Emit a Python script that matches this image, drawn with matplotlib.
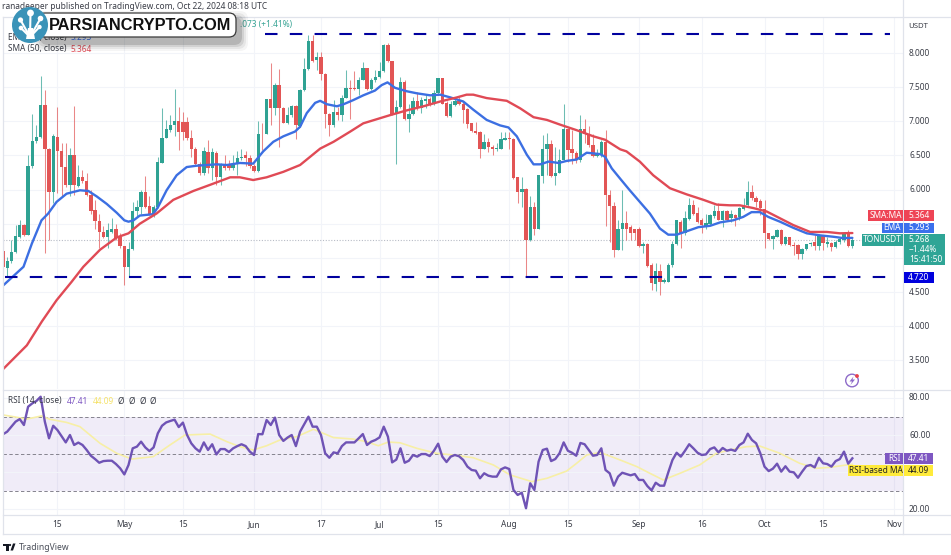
import numpy as np
import matplotlib
matplotlib.use("Agg")
import matplotlib.pyplot as plt
from matplotlib.patches import Circle, FancyBboxPatch, Rectangle, Polygon

plt.rcParams['font.family'] = ['Noto Sans', 'DejaVu Sans']

# Daily TON/USDT candles, 2 Apr - 22 Oct 2024 (index 0 = 2 Apr)
opens = [5.10,4.85,4.95,5.09,5.30,5.48,5.34,6.34,6.71,6.77,
 7.24,6.60,5.96,6.77,6.56,6.33,6.07,6.51,6.05,6.19,
 6.12,5.92,5.70,5.54,5.38,5.30,5.38,5.42,5.30,5.17,
 4.87,5.13,5.68,5.74,5.97,5.76,5.63,5.75,6.39,6.76,
 6.87,6.95,7.00,6.99,6.99,6.75,6.59,6.38,6.24,6.55,
 6.31,6.53,6.19,6.37,6.38,6.31,6.38,6.46,6.50,6.46,
 6.34,6.27,6.82,6.82,7.32,7.20,7.53,7.20,6.98,7.09,
 7.22,6.93,7.46,7.76,8.17,7.90,7.94,7.69,7.11,6.94,
 7.13,7.09,7.34,7.49,7.49,7.48,7.61,7.78,7.48,7.60,
 7.65,7.73,8.12,7.89,7.11,7.21,7.57,7.03,7.11,7.30,
 7.20,7.30,7.32,7.25,7.41,7.63,7.27,7.08,7.24,7.30,
 7.25,7.18,6.97,6.86,6.85,6.60,6.70,6.63,6.60,6.60,
 6.73,6.75,6.74,6.18,5.96,6.01,5.26,5.75,5.43,6.20,
 6.60,6.67,6.20,6.25,6.44,6.88,6.59,6.53,6.43,6.88,
 6.82,6.65,6.49,6.50,6.70,5.92,5.76,5.12,5.43,5.51,
 5.45,5.43,5.43,5.17,5.21,4.90,4.62,4.81,4.64,4.65,
 4.89,5.20,5.53,5.36,5.57,5.77,5.66,5.56,5.47,5.50,
 5.62,5.68,5.56,5.68,5.58,5.63,5.60,5.72,5.77,5.97,
 5.88,5.84,5.71,5.36,5.28,5.31,5.41,5.21,5.30,5.19,
 5.19,5.06,5.13,5.20,5.24,5.17,5.32,5.21,5.22,5.16,
 5.24,5.26,5.35,5.18]
highs = [5.34,5.02,5.26,5.48,5.55,5.50,6.51,7.11,6.95,7.66,
 7.46,6.61,6.82,7.21,6.68,6.68,6.61,7.22,6.36,6.29,
 6.24,5.99,5.85,5.65,5.46,5.51,5.58,5.50,5.36,5.18,
 5.24,5.82,5.85,5.99,6.20,5.90,5.78,6.48,7.19,7.02,
 7.09,7.48,7.21,7.14,7.07,6.87,6.63,6.41,6.63,6.73,
 6.61,6.56,6.39,6.51,6.43,6.51,6.56,6.59,6.56,6.51,
 6.38,7.01,6.97,7.33,7.86,7.56,7.76,7.21,7.21,7.24,
 7.24,7.47,7.92,8.26,8.26,8.02,8.02,7.70,7.12,7.31,
 7.21,7.39,7.75,7.60,7.73,7.65,7.87,7.78,7.63,7.75,
 7.87,8.13,8.15,7.89,7.31,7.65,7.60,7.26,7.36,7.43,
 7.35,7.39,7.36,7.46,7.64,7.64,7.29,7.29,7.34,7.36,
 7.29,7.19,6.98,6.99,6.86,6.82,6.75,6.65,6.68,6.85,
 6.85,6.85,6.75,6.19,6.19,6.02,5.90,5.82,6.22,6.80,
 6.83,6.73,6.63,6.60,7.25,6.90,6.87,6.56,7.09,7.04,
 6.93,6.82,6.60,6.72,6.87,6.00,5.82,5.55,5.99,5.68,
 5.48,5.43,5.45,5.24,5.22,4.92,4.92,4.91,4.70,4.92,
 5.25,5.56,5.56,5.68,5.87,5.85,5.75,5.58,5.65,5.65,
 5.77,5.80,5.70,5.70,5.70,5.65,5.75,5.87,6.12,6.07,
 5.90,5.86,5.85,5.37,5.34,5.42,5.42,5.32,5.31,5.24,
 5.20,5.14,5.21,5.24,5.34,5.35,5.34,5.31,5.24,5.26,
 5.30,5.37,5.41,5.29]
lows = [4.80,4.73,4.92,5.07,5.29,5.32,5.33,6.31,6.68,6.75,
 5.07,5.26,5.80,5.95,5.90,6.04,5.90,5.92,6.04,6.09,
 5.90,5.65,5.43,5.14,5.29,5.14,5.36,5.26,5.14,4.60,
 4.73,5.11,5.60,5.65,5.73,5.63,5.60,5.73,6.39,6.75,
 6.85,6.78,6.58,6.73,6.73,6.48,6.34,6.21,6.21,6.24,
 6.14,6.07,6.07,6.29,6.28,6.29,6.21,6.43,6.34,6.31,
 6.26,6.26,6.58,6.81,6.95,7.09,6.63,6.97,6.96,7.07,
 6.74,6.92,7.45,7.75,7.87,7.75,7.60,6.90,6.78,6.92,
 7.02,7.00,7.34,7.04,7.46,7.39,7.60,7.46,7.46,7.58,
 7.64,7.72,7.87,7.09,6.37,7.20,7.02,6.85,7.09,7.17,
 7.12,7.19,7.22,7.24,7.40,7.25,7.07,7.07,7.22,7.24,
 6.97,6.90,6.85,6.82,6.46,6.59,6.55,6.51,6.57,6.59,
 6.72,6.60,6.16,5.81,5.75,4.73,5.25,5.34,5.42,6.09,
 6.21,6.19,6.07,6.24,6.43,6.41,6.38,6.39,6.41,6.68,
 6.63,6.47,6.47,6.48,5.46,5.24,5.01,5.11,5.12,5.26,
 5.26,5.26,5.16,5.07,4.87,4.53,4.51,4.45,4.63,4.64,
 4.87,5.19,5.15,5.34,5.56,5.63,5.51,5.36,5.42,5.48,
 5.58,5.55,5.45,5.55,5.53,5.46,5.56,5.70,5.75,5.85,
 5.75,5.63,5.15,5.26,5.13,5.30,5.19,5.19,5.17,5.04,
 4.99,4.99,5.12,5.18,5.12,5.12,5.12,5.16,5.10,5.15,
 5.21,5.24,5.16,5.15]
closes = [4.87,4.95,5.09,5.32,5.48,5.34,6.35,6.71,6.77,7.24,
 6.60,5.96,6.78,6.56,6.33,6.07,6.51,6.07,6.19,6.12,
 5.92,5.69,5.54,5.38,5.30,5.41,5.42,5.29,5.17,4.87,
 5.13,5.69,5.74,5.97,5.75,5.65,5.75,6.40,6.76,6.88,
 6.95,7.00,6.84,6.84,6.75,6.59,6.38,6.24,6.56,6.31,
 6.55,6.19,6.38,6.31,6.31,6.38,6.46,6.48,6.46,6.34,
 6.27,6.82,6.81,7.32,7.20,7.53,7.20,6.98,7.09,7.22,
 6.95,7.46,7.76,8.17,7.89,7.94,7.69,7.11,6.95,7.13,
 7.09,7.34,7.49,7.48,7.47,7.61,7.78,7.48,7.61,7.65,
 7.73,8.12,7.89,7.11,7.21,7.57,7.03,7.11,7.30,7.20,
 7.31,7.32,7.24,7.42,7.63,7.26,7.08,7.25,7.30,7.25,
 7.17,6.96,6.86,6.83,6.60,6.70,6.63,6.60,6.61,6.74,
 6.75,6.74,6.17,5.96,6.01,5.26,5.75,5.43,6.21,6.60,
 6.67,6.20,6.25,6.44,6.88,6.58,6.53,6.43,6.88,6.82,
 6.65,6.49,6.54,6.70,5.92,5.76,5.12,5.43,5.51,5.43,
 5.36,5.36,5.17,5.21,4.88,4.63,4.81,4.65,4.67,4.89,
 5.21,5.55,5.36,5.58,5.77,5.65,5.53,5.48,5.51,5.63,
 5.68,5.56,5.68,5.56,5.65,5.58,5.73,5.78,5.97,5.87,
 5.82,5.73,5.36,5.28,5.32,5.41,5.21,5.30,5.19,5.17,
 5.06,5.13,5.20,5.22,5.17,5.33,5.22,5.24,5.16,5.24,
 5.27,5.35,5.18,5.268]

ema_x = [0.1,1.7,4.9,6.9,9.2,10.8,12.8,15.2,18.4,20.4,22.4,24.8,27.2,29,30,31.2,32.7,35.9,37.1,39.1,41.5,43.9,46.3,48.7,51.1,53.5,56.6,59.8,62.2,64.6,67,69.8,
 71,72.6,74.6,75.8,77.4,79.8,81.4,83.7,86.1,88.9,90.5,91.9,93.7,96.5,98.9,102.1,104.5,106.9,110,112.4,115.6,118.8,120.8,122.8,125.2,126.8,128.4,130.4,132.8,134.7,137.1,139.5,142.7,143.9,145.5,147.5,
 149.8,152.2,154.6,157,159,161,163.4,166.2,169,171.4,174.5,176.9,178.9,180.9,182.9,185.7,188.9,192.1,195.3,198.4,200.8,203]
ema_y = [4.60,4.69,4.87,5.21,5.55,5.65,5.82,5.94,5.99,5.98,5.90,5.79,5.66,5.55,5.53,5.55,5.62,5.64,5.75,5.99,6.21,6.33,6.35,6.36,6.37,6.36,6.39,6.38,6.56,6.70,6.78,6.85,
 6.92,7.12,7.27,7.30,7.25,7.22,7.25,7.31,7.38,7.45,7.53,7.57,7.49,7.44,7.41,7.38,7.39,7.35,7.29,7.17,7.02,6.94,6.91,6.78,6.51,6.37,6.37,6.41,6.39,6.42,6.44,6.54,6.52,6.48,6.31,6.16,
 5.99,5.82,5.65,5.43,5.34,5.34,5.39,5.45,5.47,5.52,5.55,5.60,5.67,5.67,5.60,5.53,5.44,5.36,5.33,5.31,5.29,5.293]

sma_x = [0,5.7,9.3,12.8,16.4,19.2,23.2,27.2,30,32.7,36.7,40.7,45.5,49.5,54.3,56.6,59.8,63,67,
 71,73.4,75.8,79,83,86.1,89.3,92.5,96.5,100.5,104.5,108.5,110.8,112.4,115.6,120.4,123.6,126.8,130,133.2,137.1,141.1,143.9,147.5,
 149,152.2,155.4,159.4,163.4,167.4,170.6,173.7,176.1,179.3,182.5,185.7,188.9,192.9,196.9,200,203]
sma_y = [3.37,3.72,4.07,4.38,4.65,4.87,5.12,5.30,5.36,5.50,5.65,5.85,5.98,6.07,6.18,6.18,6.14,6.18,6.26,
 6.36,6.48,6.60,6.70,6.85,6.97,7.03,7.09,7.16,7.22,7.29,7.35,7.39,7.39,7.34,7.30,7.19,7.06,7.02,6.95,6.87,6.78,6.73,6.59,
 6.56,6.41,6.21,6.02,5.93,5.85,5.78,5.77,5.77,5.73,5.68,5.58,5.48,5.38,5.38,5.36,5.364]

rsi = [60.4,61.8,64.5,67.2,68.6,65.4,75.3,77.1,78.4,80.7,
 67.2,58.2,65.0,62.7,59.4,56.0,60.0,54.6,55.9,54.6,
 51.9,48.8,47.0,45.0,45.9,46.1,46.1,44.3,42.0,38.7,
 43.8,52.8,53.7,56.4,53.3,51.3,53.3,60.9,65.0,66.8,
 67.6,68.3,64.3,66.7,60.0,55.5,52.8,51.0,56.0,51.9,
 55.0,49.5,52.4,52.4,50.8,52.8,54.0,55.0,54.0,51.0,
 49.2,60.5,60.4,68.1,65.4,69.4,60.0,56.8,58.6,60.0,
 54.0,61.8,65.8,69.9,64.5,64.5,60.0,50.1,47.7,50.6,
 50.1,54.0,56.0,56.0,56.0,58.2,60.5,54.6,56.4,57.3,
 58.7,64.5,59.1,45.2,46.7,52.8,45.0,46.1,49.2,48.3,
 49.7,49.7,48.6,51.5,55.3,48.3,45.4,48.3,49.2,48.5,
 46.5,42.9,41.1,40.7,36.6,39.3,38.0,37.5,37.5,41.4,
 42.5,41.6,30.3,27.6,28.8,20.4,33.9,30.3,45.6,51.9,
 52.6,45.9,47.0,50.1,56.0,51.5,50.4,48.8,55.7,55.0,
 51.9,48.8,49.2,52.8,41.1,39.3,32.6,37.5,39.6,38.9,
 38.2,38.9,35.7,35.7,32.4,30.1,34.2,32.6,32.6,39.8,
 46.5,50.4,48.3,51.5,55.0,52.8,50.4,49.2,49.5,52.4,
 53.3,50.6,53.0,51.5,52.1,51.4,54.6,56.0,60.7,57.3,
 55.5,50.1,42.9,40.5,41.8,44.5,40.2,43.1,40.2,39.8,
 36.9,40.2,43.2,43.8,42.5,47.7,44.7,44.3,42.9,45.9,
 47.0,51.0,44.5,47.41]

rsima_x = [0.1,2.5,5.7,9.2,11.2,15.2,18.4,23.2,27.2,30.8,35.9,39.9,43.5,49.5,53.5,56.6,59.8,63,66.2,70.2,74.2,
 79,83.7,86.9,89.7,92.1,94.9,98.9,103.6,107.6,112.4,117.2,121.2,126.4,130,134.7,137.1,139.5,142.7,147.5,151.5,
 154.6,157.8,161.8,166.5,170.5,173.7,177.7,180.9,185.7,190.4,194.4,197.6,201.6,203]
rsima_y = [70.8,69.9,68.6,70.3,68.5,66.8,64.5,55.5,50.1,47.0,48.3,54.6,60.0,60.5,56.4,53.7,51.9,54.2,57.3,59.1,63.1,
 58.6,57.8,56.4,54.2,56.2,55.8,52.8,50.1,49.2,47.7,43.8,38.4,34.8,36.6,40.5,44.7,49.2,50.6,46.5,42.9,
 39.3,35.7,39.3,43.8,50.1,51.9,53.7,54.0,50.1,44.7,42.0,42.5,43.8,44.09]

tick_pos = [13,29,43,60,76,90,104,121,135,152,167,182,196,213]
tick_lab = ['15','May','15','Jun','17','Jul','15','Aug','15','Sep','16','Oct','15','Nov']
price_ticks = [3.5,4.0,4.5,5.0,5.5,6.0,6.5,7.0,7.5,8.0]
price_labels = {3.5:'3.500',4.0:'4.000',4.5:'4.500',6.0:'6.000',6.5:'6.500',7.0:'7.000',7.5:'7.500',8.0:'8.000'}
rsi_ticks = [20,40,60,80]
rsi_labels = {20:'20.00',60:'60.00',80:'80.00'}
resistance = 8.28
support = 4.72
last_close = closes[-1]

W, H = 951, 555
GREEN, RED = '#2fa293', '#e25555'
GRID = '#f2f4f9'
BORDER = '#e0e3eb'
TXT = '#3a3d47'

fig = plt.figure(figsize=(W/100, H/100), dpi=100, facecolor='white')
def pane(l, t, r, b):
    return fig.add_axes([l/W, 1-b/H, (r-l)/W, (b-t)/H])

ax = pane(3, 17, 903, 389)
ar = pane(3, 390, 903, 515)
xlim = (0.0, 215.1)
for a in (ax, ar):
    a.set_xlim(*xlim)
    a.set_xticks(tick_pos)
    a.tick_params(length=0, labelbottom=False, labelleft=False)
    a.set_yticks([])
    for s in a.spines.values():
        s.set_visible(False)
    a.grid(False)
    for t in tick_pos:
        a.axvline(t, color=GRID, lw=0.8, zorder=0)

ax.set_ylim(8 - (389-53)/68.3, 8 - (17-53)/68.3)
for p in price_ticks:
    ax.axhline(p, color=GRID, lw=0.8, zorder=0)

x = np.arange(len(closes))
O, Hi, Lo, C = map(np.array, (opens, highs, lows, closes))
up = C >= O
cols = np.where(up, GREEN, RED)
ax.vlines(x, Lo, Hi, colors=cols, lw=0.75, alpha=0.7, zorder=2)
ax.bar(x, np.abs(C-O), bottom=np.minimum(O, C), width=0.8, color=cols, linewidth=0, zorder=3)
ax.plot(ema_x, ema_y, color='#3c6fe2', lw=1.7, zorder=4, solid_capstyle='round', solid_joinstyle='round')
ax.plot(sma_x, sma_y, color='#e04a55', lw=1.7, zorder=5, solid_capstyle='round', solid_joinstyle='round')
ax.axhline(last_close, color='#b8bcc6', lw=0.8, ls=(0, (1, 1.5)), zorder=1)
dash = (0, (6.0, 5.9))
ax.plot([62.5, 212], [resistance, resistance], color='#00009e', lw=1.5, ls=dash, zorder=6)
ax.plot([0.5, 212], [support, support], color='#00009e', lw=1.5, ls=dash, zorder=6)

ar.set_ylim(80-(515-398)/1.85, 80-(390-398)/1.85)
for v in rsi_ticks:
    ar.axhline(v, color=GRID, lw=0.8, zorder=1)
ar.axhspan(30, 70, color='#7e57c2', alpha=0.11, lw=0, zorder=0.5)
for v in (30, 50, 70):
    ar.axhline(v, color='#85838e', lw=0.7, ls=(0, (3.5, 2.5)), zorder=1.5)
ar.plot(rsima_x, rsima_y, color='#f7efa6', lw=1.2, zorder=2)
ar.plot(x, rsi, color='#6f53b5', lw=1.7, zorder=3, solid_joinstyle='round')

# overlay in picture pixels for axis labels, tags and the watermark
ov = fig.add_axes([0, 0, 1, 1], zorder=20)
ov.set_xlim(0, W); ov.set_ylim(H, 0); ov.axis('off')
ov.patch.set_alpha(0)

for xs, ys in [([3,3],[17,534]), ([903,903],[0,534]), ([3,951],[390,390]), ([3,951],[515,515]), ([3,951],[534,534]), ([3,951],[17,17])]:
    ov.plot(xs, ys, color=BORDER, lw=0.9, zorder=1)

FS = 6.0
for p, s in price_labels.items():
    ov.text(909, H - ax.transData.transform((0, p))[1], s, ha='left', va='center', fontsize=FS, color=TXT)
for v, s in rsi_labels.items():
    ov.text(909, H - ar.transData.transform((0, v))[1], s, ha='left', va='center', fontsize=FS, color=TXT)
ov.text(918, 27, 'USDT', ha='center', va='center', fontsize=5.6, color=TXT)
for t, s in zip(tick_pos, tick_lab):
    px = ax.transData.transform((t, 0))[0]
    ov.text(px, 524.5, s, ha='center', va='center', fontsize=FS, color=TXT)

def tag(l, r, t, b, col, s, tc='white', ha='center', **kw):
    ov.add_patch(Rectangle((l, t), r-l, b-t, fc=col, ec='none', zorder=5))
    ov.text((l+r)/2, (t+b)/2, s, ha=ha, va='center', fontsize=FS, color=tc, zorder=6, **kw)

tag(868, 903, 210, 221, '#ee4455', 'SMA:MA')
tag(904, 934, 210, 221, '#ee4455', '5.364')
tag(882, 903, 223, 233, '#3b70ec', 'EMA')
tag(904, 934, 223, 233, '#3b70ec', '5.293')
tag(862, 903, 234, 246, '#2fa596', 'TONUSDT')
ov.add_patch(Rectangle((904, 234), 41, 31, fc='#2fa596', ec='none', zorder=5))
for yy, s in [(240, '5.268'), (249.5, '\u22121.44%'), (259.5, '15:41:50')]:
    ov.text(909, yy, s, ha='left', va='center', fontsize=FS, color='white', zorder=6)
tag(904, 934, 272, 283, '#0000dd', '4.720')

tag(885, 903, 453, 464, '#7e57c2', 'RSI')
tag(904, 933, 453, 464, '#7e57c2', '47.41')
tag(848, 903, 465, 476, '#ffeb3b', 'RSI-based MA', tc='#222222')
tag(904, 933, 465, 476, '#ffeb3b', '44.09', tc='#222222')

# indicator legend
ov.text(2, 6.5, 'ranadeeper published on TradingView.com, Oct 22, 2024 08:18 UTC', ha='left', va='center', fontsize=6.0, color='#3a3d47')
ov.text(240, 25, '.073 (+1.41%)', ha='left', va='center', fontsize=FS, color='#3aa596')
ov.text(8, 37.5, 'EMA (20, close)', ha='left', va='center', fontsize=FS, color=TXT)
ov.text(71, 37.5, '5.293', ha='left', va='center', fontsize=FS, color='#3b70ec')
ov.text(8, 49, 'SMA (50, close)', ha='left', va='center', fontsize=FS, color=TXT)
ov.text(71, 49, '5.364', ha='left', va='center', fontsize=FS, color='#e04a55')

ov.text(8, 401, 'RSI (14, close)', ha='left', va='center', fontsize=FS, color=TXT)
ov.text(67, 401, '47.41', ha='left', va='center', fontsize=FS, color='#7e57c2')
ov.text(93, 401, '44.09', ha='left', va='center', fontsize=FS, color='#f5e26a')
for xx in (121, 132, 142.5, 153):
    ov.text(xx, 401, '\u00d8', ha='center', va='center', fontsize=FS, color=TXT)

# lightning badge
ov.add_patch(Circle((852, 380.5), 6.3, fc='white', ec='#8e6bc9', lw=1.0, zorder=5))
ov.add_patch(Polygon([(853.5, 376.5), (849.5, 381.5), (852, 381.5), (850.5, 385), (855, 379.5), (852.5, 379.5)], fc='#8e6bc9', ec='none', zorder=6))
ov.add_patch(Circle((857, 376), 1.9, fc='#e8404a', ec='none', zorder=7))

# watermark pill
for d, al in [(8, 0.04), (6, 0.06), (4, 0.09), (2, 0.13)]:
    ov.add_patch(FancyBboxPatch((38-d+4, 13-d+6), 198+2*d, 24+2*d, boxstyle='round,pad=0,rounding_size=8', fc='#000000', ec='none', alpha=al, zorder=8))
ov.add_patch(FancyBboxPatch((38, 13), 198, 24, boxstyle='round,pad=0,rounding_size=7', fc='white', ec='#3a3a3a', lw=0.9, zorder=9))
ov.text(140, 25, 'PARSIANCRYPTO.COM', ha='center', va='center', fontsize=11.8, family='Liberation Sans', weight='bold', color='#111111', zorder=10)
ov.add_patch(Circle((30, 25), 18, fc='#3a93b8', ec='none', zorder=11))
for (cx, cy, r) in [(30.5, 13, 3.4), (20.5, 20, 2.6), (40.5, 18.5, 2.8), (21, 28, 2.3), (39.5, 27, 2.2)]:
    ov.add_patch(Circle((cx, cy), r, fc='white', ec='none', zorder=12))
    ov.plot([30, cx], [37, cy], color='white', lw=1.5, zorder=12)
ov.add_patch(Polygon([(26, 39), (35, 39), (33, 28), (28, 28)], fc='white', ec='none', zorder=12))

# footer logo
ov.add_patch(Polygon([(3, 543.5), (8.5, 543.5), (8.5, 550.5), (6, 550.5), (6, 546), (3, 546)], fc='#131722', ec='none'))
ov.add_patch(Polygon([(10.5, 550.5), (13, 543.5), (15.5, 543.5), (13, 550.5)], fc='#131722', ec='none'))
ov.add_patch(Circle((10, 545), 1.1, fc='#131722', ec='none'))
ov.text(19, 547, 'TradingView', ha='left', va='center', fontsize=6.2, color='#4a4e59')

fig.savefig('out.png', dpi=100, facecolor='white')
